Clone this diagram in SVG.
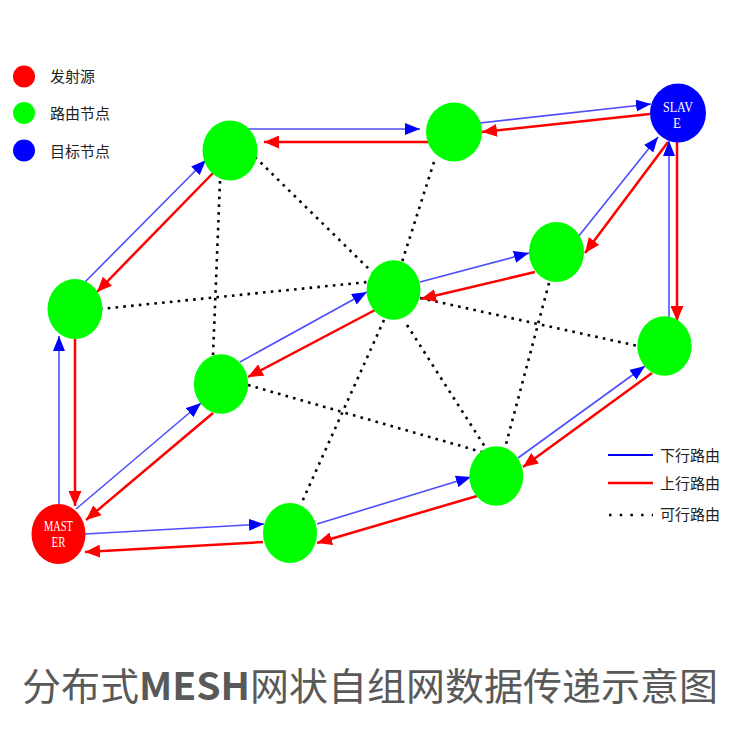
<svg xmlns="http://www.w3.org/2000/svg" width="750" height="750" viewBox="0 0 750 750">
<style>
.dl{stroke:#4d4dff;stroke-width:1.6;fill:none;marker-end:url(#ab)}
.ul{stroke:#ff0000;stroke-width:2.5;fill:none;marker-end:url(#ar)}
.dot{stroke:#000;stroke-width:2.6;stroke-dasharray:2.6 5.2;fill:none}
.g{fill:#00ff00}
.lt{font-family:"Noto Sans CJK SC","Noto Sans",sans-serif;font-size:15px;fill:#222}
.nl{font-family:"Liberation Serif",serif;font-size:15px;fill:#fff;text-anchor:middle}
</style>
<defs>
<marker id="ab" markerUnits="userSpaceOnUse" markerWidth="16" markerHeight="12" refX="15" refY="6" orient="auto"><path d="M0,0 L15,6 L0,12 z" fill="#0000ff"/></marker>
<marker id="ar" markerUnits="userSpaceOnUse" markerWidth="16" markerHeight="13" refX="15" refY="6.5" orient="auto"><path d="M0,0 L15,6.5 L0,13 z" fill="#ff0000"/></marker>
</defs>
<rect width="750" height="750" fill="#fff"/>
<g id="legend-top">
<circle cx="24" cy="76.5" r="11" fill="#ff0000"/>
<circle cx="24" cy="113" r="11" fill="#00ff00"/>
<circle cx="24" cy="150.5" r="11" fill="#0000ff"/>
<text class="lt" x="50" y="82">发射源</text>
<text class="lt" x="50" y="119">路由节点</text>
<text class="lt" x="50" y="157">目标节点</text>
</g>
<g id="connectors">
<line class="dot" x1="100" y1="309" x2="368" y2="282"/>
<line class="dot" x1="220" y1="181" x2="213" y2="356"/>
<line class="dot" x1="255" y1="157" x2="372" y2="272"/>
<line class="dot" x1="434" y1="162" x2="402" y2="262"/>
<line class="dot" x1="384" y1="320" x2="302" y2="502"/>
<line class="dot" x1="407" y1="325" x2="487" y2="450"/>
<line class="dot" x1="420" y1="298" x2="638" y2="346"/>
<line class="dot" x1="549" y1="283" x2="505" y2="448"/>
<line class="dot" x1="248" y1="385" x2="482" y2="452"/>
<line class="dl" x1="59" y1="505" x2="59" y2="336"/>
<line class="ul" x1="75" y1="338" x2="75" y2="506"/>
<line class="dl" x1="85" y1="282" x2="206" y2="160"/>
<line class="ul" x1="213" y1="173" x2="97" y2="292"/>
<line class="dl" x1="248" y1="129" x2="420" y2="129"/>
<line class="ul" x1="430" y1="142" x2="264" y2="142"/>
<line class="dl" x1="480" y1="123" x2="651" y2="104"/>
<line class="ul" x1="650" y1="114" x2="482" y2="132"/>
<line class="dl" x1="76" y1="509" x2="201" y2="403"/>
<line class="ul" x1="213" y1="413" x2="86" y2="520"/>
<line class="dl" x1="240" y1="362" x2="367" y2="292"/>
<line class="ul" x1="375" y1="310" x2="248" y2="377"/>
<line class="dl" x1="420" y1="282" x2="529" y2="253"/>
<line class="ul" x1="535" y1="272" x2="421" y2="299"/>
<line class="dl" x1="578" y1="237" x2="658" y2="137"/>
<line class="ul" x1="668" y1="142" x2="585" y2="253"/>
<line class="dl" x1="85" y1="534" x2="264" y2="524"/>
<line class="ul" x1="263" y1="542" x2="85" y2="552"/>
<line class="dl" x1="317" y1="524" x2="471" y2="477"/>
<line class="ul" x1="477" y1="496" x2="317" y2="543"/>
<line class="dl" x1="518" y1="458" x2="645" y2="366"/>
<line class="ul" x1="652" y1="373" x2="523" y2="467"/>
<line class="dl" x1="669" y1="317" x2="669" y2="141"/>
<line class="ul" x1="677" y1="142" x2="677" y2="321"/>
</g>
<g id="master"><ellipse cx="58.5" cy="534" rx="27" ry="30" fill="#ff0000"/>
<text class="nl" x="58.5" y="531" textLength="29" lengthAdjust="spacingAndGlyphs">MAST</text>
<text class="nl" x="58.5" y="547" textLength="14" lengthAdjust="spacingAndGlyphs">ER</text></g>
<g id="slave"><ellipse cx="678" cy="113" rx="28" ry="29.5" fill="#0000ff"/>
<text class="nl" x="678" y="112" textLength="30" lengthAdjust="spacingAndGlyphs">SLAV</text>
<text class="nl" x="677" y="128" textLength="8" lengthAdjust="spacingAndGlyphs">E</text></g>
<g id="n1"><ellipse class="g" cx="75" cy="309" rx="27.5" ry="30"/></g>
<g id="n2"><ellipse class="g" cx="230" cy="150.5" rx="27.5" ry="30"/></g>
<g id="n3"><ellipse class="g" cx="454" cy="132" rx="28" ry="29.5"/></g>
<g id="n4"><ellipse class="g" cx="556.5" cy="252" rx="27.5" ry="30"/></g>
<g id="n5"><ellipse class="g" cx="393.5" cy="290" rx="27" ry="29.7"/></g>
<g id="n6"><ellipse class="g" cx="664.5" cy="346" rx="27.2" ry="29.7"/></g>
<g id="n7"><ellipse class="g" cx="221" cy="384" rx="27.2" ry="29.7"/></g>
<g id="n8"><ellipse class="g" cx="496.3" cy="476" rx="27" ry="29.7"/></g>
<g id="n9"><ellipse class="g" cx="290" cy="533" rx="27" ry="30"/></g>
<g id="legend-bottom">
<line x1="608" y1="455" x2="653" y2="455" stroke="#0000ff" stroke-width="2"/>
<line x1="608" y1="483" x2="653" y2="483" stroke="#ff0000" stroke-width="2.5"/>
<line x1="609" y1="515" x2="653" y2="515" stroke="#000" stroke-width="2.5" stroke-dasharray="2.5 8.2"/>
<text class="lt" x="660" y="461">下行路由</text>
<text class="lt" x="660" y="489">上行路由</text>
<text class="lt" x="660" y="520">可行路由</text>
</g>
<text id="title" x="22" y="700" textLength="696" lengthAdjust="spacingAndGlyphs" font-family="'Noto Sans CJK SC','Noto Sans',sans-serif" font-size="38" fill="#595959">分布式<tspan font-weight="bold">MESH</tspan>网状自组网数据传递示意图</text>
</svg>
